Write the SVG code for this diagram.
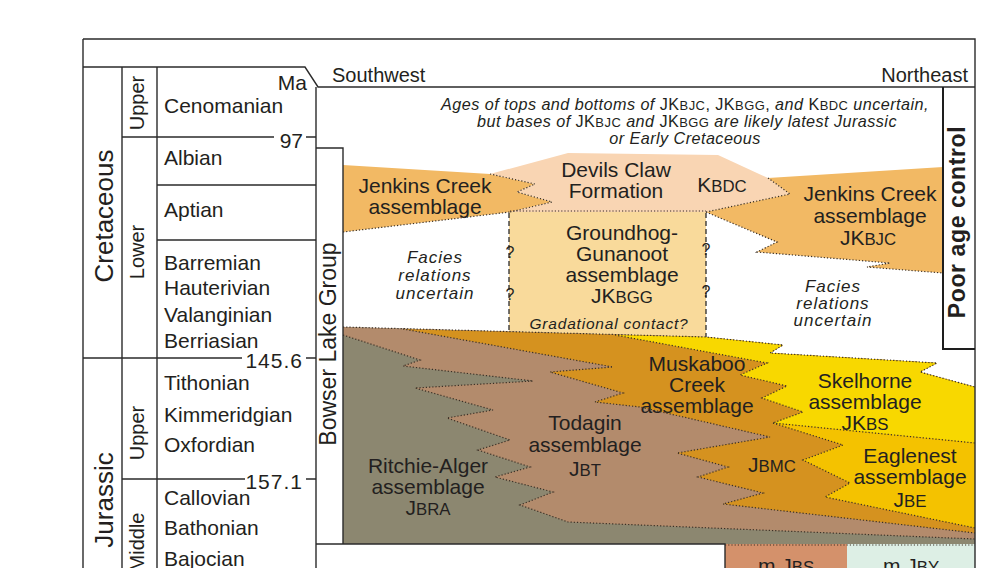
<svg xmlns="http://www.w3.org/2000/svg" width="1000" height="568" viewBox="0 0 1000 568">
<style>
.t{font-family:"Liberation Sans",Arial,Helvetica,sans-serif;fill:#231f20}
.st{font-size:21px}
.lb{font-size:21px;text-anchor:middle}
.it{font-style:italic}
.note{font-size:16.2px;text-anchor:middle;letter-spacing:0.45px}
.fac{font-size:17px;font-style:italic;text-anchor:middle;letter-spacing:1px}
.q{font-size:16px;text-anchor:middle}
.sc{font-size:80%}
.ln{stroke:#2b2b2b;stroke-width:1.4;fill:none}
.bx{stroke:#1e1e1e;stroke-width:2;fill:none}
.dot{stroke:#3a2f25;stroke-width:1.2;fill:none;stroke-dasharray:1.2 2}
.dash{stroke:#2b2b2b;stroke-width:1.3;fill:none;stroke-dasharray:5 3}
</style>
<rect width="1000" height="568" fill="#ffffff"/>

<!-- Cretaceous units -->
<g id="groundhog-gunanoot">
<polygon fill="#f9da9b" points="509,211 706,211 706,337 509,332"/>
<text class="t lb" x="622" y="240">Groundhog-</text>
<text class="t lb" x="622" y="261">Gunanoot</text>
<text class="t lb" x="622" y="282">assemblage</text>
<text class="t lb" x="622" y="303">JK<tspan class="sc">BGG</tspan></text>
<text class="t it" x="609" y="329" style="font-size:15.5px;text-anchor:middle;letter-spacing:0.8px">Gradational contact?</text>
</g>
<g id="jenkins-left">
<polygon fill="#f2b964" points="343,165 490,174 535,184 517,192 552,202 510,212 343,232"/>
<text class="t lb" x="425" y="193">Jenkins Creek</text>
<text class="t lb" x="425" y="214">assemblage</text>
</g>
<g id="devils-claw">
<polygon fill="#f9d5b3" points="490,174 568,153 718,155 768,178 790,194 706,212 510,212 552,202 517,192 535,184"/>
<text class="t lb" x="616" y="177">Devils Claw</text>
<text class="t lb" x="616" y="198">Formation</text>
<text class="t lb" x="722" y="192">K<tspan class="sc">BDC</tspan></text>
</g>
<g id="jenkins-right">
<polygon fill="#f2b964" points="768,178 943,167 943,273 867,267 890,263 757,252 777,242 706,212 790,194"/>
<text class="t lb" x="870" y="201">Jenkins Creek</text>
<text class="t lb" x="870" y="223">assemblage</text>
<text class="t lb" x="868" y="245">JK<tspan class="sc">BJC</tspan></text>
</g>

<!-- Jurassic wedge -->
<g id="ritchie-alger">
<polygon fill="#8c8770" points="343,327 706,337 783,345 770,353 937,363 920,372 975,387 975,544 343,544"/>
<text class="t lb" x="428" y="473">Ritchie-Alger</text>
<text class="t lb" x="428" y="494">assemblage</text>
<text class="t lb" x="428" y="515">J<tspan class="sc">BRA</tspan></text>
</g>
<g id="todagin">
<polygon fill="#b38b6c" points="343,327 706,337 783,345 770,353 937,363 920,372 975,387 975,539 568,522 520,505 553,492 495,477 530,467 478,450 510,440 447,418 493,410 415,388 533,381 403,366 420,360 343,335"/>
<text class="t lb" x="585" y="430">Todagin</text>
<text class="t lb" x="585" y="452">assemblage</text>
<text class="t lb" x="585" y="476">J<tspan class="sc">BT</tspan></text>
</g>
<g id="muskaboo-creek">
<polygon fill="#d5921f" points="403,329 706,337 783,345 770,353 937,363 920,372 975,387 975,533 723,504 763,493 698,477 728,467 677,453 770,437 640,407 595,402 623,393 550,372 613,367"/>
<text class="t lb" x="697" y="371">Muskaboo</text>
<text class="t lb" x="697" y="392">Creek</text>
<text class="t lb" x="697" y="413">assemblage</text>
<text class="t lb" x="772" y="472">J<tspan class="sc">BMC</tspan></text>
</g>
<g id="skelhorne">
<polygon fill="#f8d800" points="615,335 706,337 783,345 770,353 937,363 920,372 975,387 975,443 773,423 803,412 762,398 787,386 740,375 767,363"/>
<text class="t lb" x="865" y="388">Skelhorne</text>
<text class="t lb" x="865" y="409">assemblage</text>
<text class="t lb" x="865" y="430">JK<tspan class="sc">BS</tspan></text>
</g>
<g id="eaglenest">
<polygon fill="#f4c200" points="773,423 975,443 975,528 825,497 850,483 803,460 843,445"/>
<text class="t lb" x="910" y="463">Eaglenest</text>
<text class="t lb" x="910" y="484">assemblage</text>
<text class="t lb" x="910" y="507">J<tspan class="sc">BE</tspan></text>
</g>

<g id="facies-left">
<text class="t fac" x="435" y="263">Facies</text>
<text class="t fac" x="435" y="281">relations</text>
<text class="t fac" x="435" y="299">uncertain</text>
</g>
<g id="facies-right">
<text class="t fac" x="833" y="292">Facies</text>
<text class="t fac" x="833" y="309">relations</text>
<text class="t fac" x="833" y="326">uncertain</text>
</g>

<g id="m-jbs">
<rect x="725" y="544" width="122" height="30" fill="#d4916b"/>
<text class="t lb" x="786" y="573">m.J<tspan class="sc">BS</tspan></text>
</g>
<g id="m-jby">
<rect x="847" y="544" width="128" height="30" fill="#ddefe5"/>
<text class="t lb" x="911" y="573">m.J<tspan class="sc">BY</tspan></text>
</g>

<!-- contacts -->
<g id="contacts">
<polyline class="dot" points="490,174 535,184 517,192 552,202 510,212"/>
<polyline class="dot" points="343,232 510,212"/>
<polyline class="dot" points="510,211 706,211"/>
<polyline class="dot" points="706,212 790,194 768,178"/>
<polyline class="dot" points="706,212 777,242 757,252 890,263 867,267 943,273"/>
<polyline class="dot" points="343,327 706,337 783,345 770,353 937,363 920,372 975,387"/>
<polyline class="dot" points="343,335 420,360 403,366 533,381 415,388 493,410 447,418 510,440 478,450 530,467 495,477 553,492 520,505 568,522 975,539"/>
<polyline class="dot" points="403,329 613,367 550,372 623,393 595,402 640,407 770,437 677,453 728,467 698,477 763,493 723,504 975,533"/>
<polyline class="dot" points="615,335 767,363 740,375 787,386 762,398 803,412 773,423"/>
<polyline class="dot" points="773,423 975,443"/>
<polyline class="dot" points="773,423 843,445 803,460 850,483 825,497 975,528"/>
<polyline class="dot" points="725,545 975,545"/>
<polyline class="dash" points="509,213 509,332"/>
<polyline class="dash" points="706,213 706,337"/>
<text class="t q" x="510" y="258">?</text>
<text class="t q" x="510" y="300">?</text>
<text class="t q" x="706" y="255">?</text>
<text class="t q" x="706" y="297">?</text>
</g>

<!-- frame and timescale -->
<g id="frame">
<path class="ln" d="M83 39H975V568M83 39V568M83 67H305L318 87H975"/>
<path class="ln" d="M122 67V568M157 67V568M316 87V568"/>
<path class="ln" d="M122 137H274M306 137H316M157 185H316M157 240H316M83 358H242M306 358H316M122 479H245M306 479H316"/>
<path class="ln" d="M316 148H343V544M316 544H725V568"/>
<path class="bx" d="M943 87V349H975"/>
</g>

<g id="timescale">
<text class="t" transform="translate(113,216) rotate(-90)" style="font-size:26px;text-anchor:middle">Cretaceous</text>
<text class="t" transform="translate(113,500) rotate(-90)" style="font-size:26px;text-anchor:middle">Jurassic</text>
<text class="t" transform="translate(144,103) rotate(-90)" style="font-size:20px;text-anchor:middle">Upper</text>
<text class="t" transform="translate(144,252) rotate(-90)" style="font-size:20px;text-anchor:middle">Lower</text>
<text class="t" transform="translate(144,433) rotate(-90)" style="font-size:20px;text-anchor:middle">Upper</text>
<text class="t" transform="translate(144,542) rotate(-90)" style="font-size:20px;text-anchor:middle">Middle</text>
<text class="t st" x="164" y="113">Cenomanian</text>
<text class="t st" x="164" y="165">Albian</text>
<text class="t st" x="164" y="217">Aptian</text>
<text class="t st" x="164" y="270">Barremian</text>
<text class="t st" x="164" y="295">Hauterivian</text>
<text class="t st" x="164" y="322">Valanginian</text>
<text class="t st" x="164" y="348">Berriasian</text>
<text class="t st" x="164" y="390">Tithonian</text>
<text class="t st" x="164" y="422">Kimmeridgian</text>
<text class="t st" x="164" y="452">Oxfordian</text>
<text class="t st" x="164" y="505">Callovian</text>
<text class="t st" x="164" y="535">Bathonian</text>
<text class="t st" x="164" y="566">Bajocian</text>
<text class="t st" x="307" y="90" text-anchor="end">Ma</text>
<text class="t st" x="303" y="148" text-anchor="end">97</text>
<text class="t st" x="303" y="368" text-anchor="end" letter-spacing="1">145.6</text>
<text class="t st" x="303" y="489" text-anchor="end" letter-spacing="1">157.1</text>
<text class="t" transform="translate(336,344) rotate(-90)" style="font-size:23px;text-anchor:middle">Bowser Lake Group</text>
</g>

<g id="headers">
<text class="t" x="332" y="82" style="font-size:20px">Southwest</text>
<text class="t" x="968" y="82" style="font-size:20px;text-anchor:end">Northeast</text>
<text class="t note" x="685" y="110"><tspan class="it">Ages of tops and bottoms of </tspan>JK<tspan class="sc">BJC</tspan>, JK<tspan class="sc">BGG</tspan>,<tspan class="it"> and </tspan>K<tspan class="sc">BDC</tspan><tspan class="it"> uncertain,</tspan></text>
<text class="t note" x="687" y="127"><tspan class="it">but bases of </tspan>JK<tspan class="sc">BJC</tspan><tspan class="it"> and </tspan>JK<tspan class="sc">BGG</tspan><tspan class="it"> are likely latest Jurassic</tspan></text>
<text class="t note it" x="685" y="144">or Early Cretaceous</text>
</g>

<g id="poor-age-control">
<text class="t" transform="translate(965,222) rotate(-90)" style="font-size:23px;font-weight:bold;text-anchor:middle;letter-spacing:0.6px">Poor age control</text>
</g>
</svg>
